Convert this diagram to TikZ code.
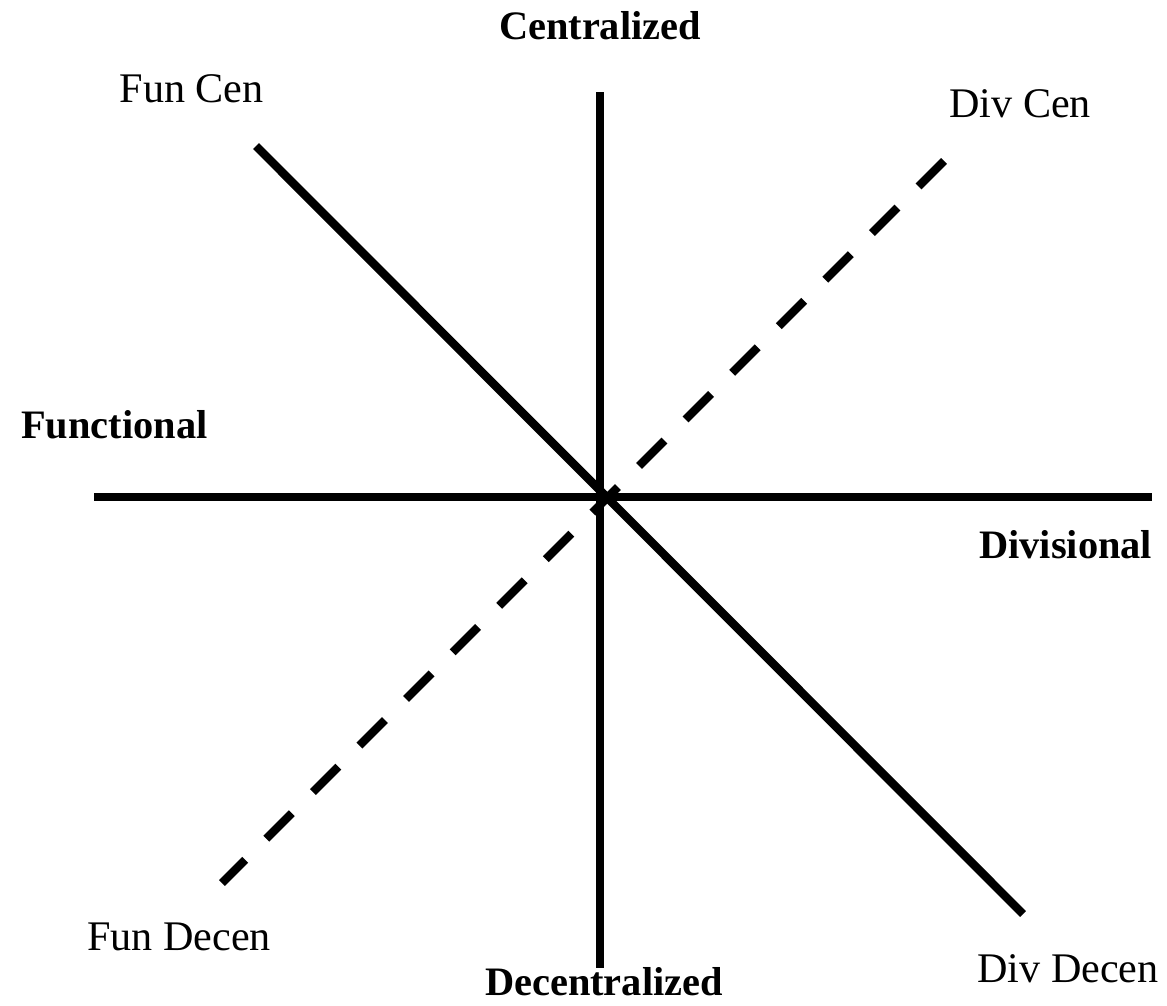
\documentclass[tikz,border=0pt]{standalone}
\usepackage{fontspec}
\setmainfont{Liberation Serif}
\definecolor{AxisBlack}{HTML}{000000}

\begin{document}
\begin{tikzpicture}[x=0.02cm,y=-0.02cm,draw=AxisBlack,text=AxisBlack,line width=4.8pt,
    axislabel/.style={font=\bfseries\fontsize{23}{25}\selectfont,inner sep=0pt},
    cornerlabel/.style={font=\fontsize{24}{26}\selectfont,inner sep=0pt},
    dashline/.style={dash pattern=on 20.5pt off 17pt}]
  \useasboundingbox (0,0) rectangle (1167,1005);

  \coordinate (cen) at (600,92);
  \coordinate (decen) at (600,968);
  \coordinate (fun) at (94,497);
  \coordinate (div) at (1152,497);
  \coordinate (funcen) at (256,146);
  \coordinate (divdecen) at (1023,914);
  \coordinate (divcen) at (944,161);
  \coordinate (fundecen) at (222,883);

  \draw (cen) -- (decen);
  \draw (fun) -- (div);
  \draw (funcen) -- (divdecen);
  \draw[dashline] (divcen) -- (fundecen);

  \node[axislabel,anchor=base] (lcen) at (600,39) {Centralized};
  \node[axislabel,anchor=base] (ldecen) at (604,995) {Decentralized};
  \node[axislabel,anchor=base west] (lfun) at (17,438) {Functional};
  \node[axislabel,anchor=base west] (ldiv) at (975,558) {Divisional};

  \node[cornerlabel,anchor=base east] (lfuncen) at (268,102) {Fun Cen};
  \node[cornerlabel,anchor=base west] (ldivcen) at (945,117) {Div Cen};
  \node[cornerlabel,anchor=base west] (lfundecen) at (83,950) {Fun Decen};
  \node[cornerlabel,anchor=base east] (ldivdecen) at (1163,982) {Div Decen};
\end{tikzpicture}
\end{document}
